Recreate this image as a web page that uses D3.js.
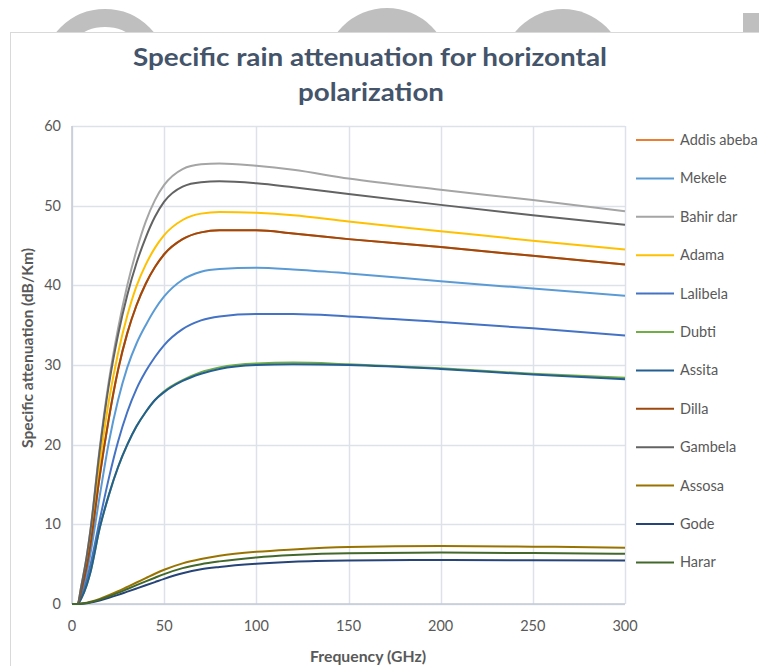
<!DOCTYPE html>
<html>
<head>
<meta charset="utf-8">
<script src="https://cdn.jsdelivr.net/npm/d3@7"></script>
<style>
  body { margin: 0; background: #fff; }
  svg text { font-family: Lato, "Open Sans", sans-serif; }
</style>
</head>
<body>
<svg width="759" height="666"></svg>
<script>
// frequencies (GHz)
const freqs = [0, 3, 5, 8, 10, 15, 20, 25, 30, 35, 40, 45, 50, 60, 70, 80, 100, 120, 150, 200, 250, 300];

// specific attenuation (dB/km) per station
const addisAbeba = [0, 0, 1.6, 4.7, 7.4, 16.0, 23.3, 29.4, 34.0, 37.5, 40.2, 42.3, 43.9, 45.8, 46.65, 46.9, 46.9, 46.5, 45.8, 44.8, 43.7, 42.6];
const mekele     = [0, 0, 1.3, 3.9, 6.3, 13.5, 20.3, 25.6, 29.7, 32.7, 35.0, 37.0, 38.6, 40.7, 41.7, 42.05, 42.2, 42.0, 41.5, 40.5, 39.6, 38.7];
const bahirDar   = [0, 0, 2.2, 6.0, 9.3, 19.5, 28.0, 34.6, 40.0, 44.4, 48.0, 50.7, 52.6, 54.6, 55.2, 55.3, 55.0, 54.5, 53.4, 52.0, 50.7, 49.3];
const adama      = [0, 0, 1.9, 5.4, 8.4, 17.6, 25.5, 31.5, 36.2, 39.9, 42.6, 44.7, 46.3, 48.2, 49.0, 49.2, 49.1, 48.8, 48.0, 46.8, 45.6, 44.5];
const lalibela   = [0, 0, 0.9, 3.0, 4.9, 10.5, 15.8, 20.4, 24.1, 27.0, 29.2, 31.0, 32.5, 34.5, 35.6, 36.1, 36.4, 36.4, 36.1, 35.4, 34.6, 33.7];
const dubti      = [0, 0, 0.7, 2.4, 4.0, 9.5, 13.7, 17.2, 20.0, 22.3, 24.1, 25.6, 26.7, 28.1, 29.1, 29.7, 30.2, 30.3, 30.1, 29.6, 28.9, 28.4];
const assita     = [0, 0, 0.7, 2.4, 4.0, 9.5, 13.7, 17.2, 20.0, 22.3, 24.1, 25.6, 26.6, 28.0, 28.9, 29.5, 30.0, 30.1, 30.0, 29.5, 28.8, 28.2];
const dilla      = [0, 0, 1.6, 4.7, 7.4, 16.0, 23.3, 29.4, 34.0, 37.5, 40.2, 42.3, 43.9, 45.8, 46.65, 46.9, 46.9, 46.5, 45.8, 44.8, 43.7, 42.6];
const gambela    = [0, 0, 2.2, 6.0, 9.2, 19.2, 27.5, 33.8, 38.8, 42.8, 46.0, 48.6, 50.5, 52.4, 52.95, 53.05, 52.8, 52.3, 51.45, 50.1, 48.8, 47.6];
const assosa     = [0, 0, 0.05, 0.15, 0.28, 0.65, 1.1, 1.6, 2.15, 2.7, 3.25, 3.8, 4.3, 5.1, 5.65, 6.05, 6.55, 6.85, 7.15, 7.28, 7.2, 7.07];
const gode       = [0, 0, 0.03, 0.1, 0.18, 0.45, 0.78, 1.15, 1.55, 1.95, 2.35, 2.75, 3.15, 3.85, 4.35, 4.65, 5.05, 5.3, 5.45, 5.52, 5.5, 5.45];
const harar      = [0, 0, 0.04, 0.12, 0.22, 0.55, 0.95, 1.4, 1.88, 2.36, 2.84, 3.3, 3.75, 4.5, 5.0, 5.35, 5.85, 6.15, 6.38, 6.45, 6.4, 6.3];

const names = ['Addis abeba', 'Mekele', 'Bahir dar', 'Adama', 'Lalibela', 'Dubti',
               'Assita', 'Dilla', 'Gambela', 'Assosa', 'Gode', 'Harar'];
const seriesValues = [addisAbeba, mekele, bahirDar, adama, lalibela, dubti,
                      assita, dilla, gambela, assosa, gode, harar];
const colors = ['#ED7D31', '#5B9BD5', '#A5A5A5', '#FFC000', '#4472C4', '#70AD47',
                '#255E91', '#9E480E', '#636363', '#997300', '#264478', '#43682B'];

const xTicks = [0, 50, 100, 150, 200, 250, 300];
const yTicks = [0, 10, 20, 30, 40, 50, 60];

const svg = d3.select('svg');

var plot = {left: 72, right: 625, top: 126, bottom: 604};

// page background shapes peeking out above the chart box
svg.append('circle').attr('cx', 105).attr('cy', 72).attr('r', 54)
    .attr('fill', 'none').attr('stroke', '#bfbfbf').attr('stroke-width', 18);
svg.append('circle').attr('cx', 387).attr('cy', 71).attr('r', 63).attr('fill', '#bfbfbf');
svg.append('circle').attr('cx', 563).attr('cy', 70).attr('r', 61).attr('fill', '#bfbfbf');
svg.append('rect').attr('x', 743).attr('y', 13).attr('width', 20).attr('height', 30).attr('fill', '#bfbfbf');

// chart box
svg.append('rect')
    .attr('x', 10.5).attr('y', 32.5)
    .attr('width', 800).attr('height', 700)
    .attr('fill', '#fff')
    .attr('stroke', '#d9d9d9');

var xScale = d3.scaleLinear()
    .domain([0, 300])
    .range([plot.left, plot.right]);

var yScale = d3.scaleLinear()
    .domain([0, 60])
    .range([plot.bottom, plot.top]);

//-----------------------------------------GRID-----------------------------------------//

svg.append('g')
    .selectAll('line')
    .data(yTicks)
    .enter()
    .append('line')
    .attr('x1', xScale(0)).attr('x2', xScale(300))
    .attr('y1', d => Math.round(yScale(d)) + 0.5)
    .attr('y2', d => Math.round(yScale(d)) + 0.5)
    .style('stroke', '#dde1ea')
    .style('stroke-width', 1.5);

svg.append('g')
    .selectAll('line')
    .data(xTicks)
    .enter()
    .append('line')
    .attr('y1', yScale(0)).attr('y2', yScale(60))
    .attr('x1', d => Math.round(xScale(d)) + 0.5)
    .attr('x2', d => Math.round(xScale(d)) + 0.5)
    .style('stroke', '#dde1ea')
    .style('stroke-width', 1.5);

// axis lines
svg.append('line')
    .attr('x1', xScale(0)).attr('x2', xScale(0))
    .attr('y1', yScale(0)).attr('y2', yScale(60))
    .style('stroke', '#c3cad6').style('stroke-width', 1.5);
svg.append('line')
    .attr('x1', xScale(0)).attr('x2', xScale(300))
    .attr('y1', yScale(0)).attr('y2', yScale(0))
    .style('stroke', '#c3cad6').style('stroke-width', 1.5);

//-----------------------------------------TICK LABELS-----------------------------------------//

svg.append('g')
    .selectAll('text')
    .data(yTicks)
    .enter()
    .append('text')
    .attr('x', 61)
    .attr('y', d => yScale(d) + 5)
    .attr('text-anchor', 'end')
    .style('font-size', '14.5px')
    .style('fill', '#595959')
    .text(d => d);

svg.append('g')
    .selectAll('text')
    .data(xTicks)
    .enter()
    .append('text')
    .attr('x', d => xScale(d))
    .attr('y', 631)
    .attr('text-anchor', 'middle')
    .style('font-size', '14.5px')
    .style('fill', '#595959')
    .text(d => d);

//-----------------------------------------LINES-----------------------------------------//

var line = d3.line()
    .x((d, i) => xScale(freqs[i]))
    .y(d => yScale(d))
    .curve(d3.curveMonotoneX);

svg.append('g')
    .selectAll('path')
    .data(seriesValues)
    .enter()
    .append('path')
    .attr('d', d => line(d))
    .attr('fill', 'none')
    .attr('stroke', (d, i) => colors[i])
    .attr('stroke-width', 2)
    .attr('stroke-linejoin', 'round');

//-----------------------------------------LEGEND-----------------------------------------//

var legend = svg.append('g')
    .selectAll('g')
    .data(names)
    .enter()
    .append('g')
    .attr('transform', (d, i) => `translate(0,${140 + i * 38.4})`);

legend.append('line')
    .attr('x1', 636).attr('x2', 674)
    .attr('y1', 0).attr('y2', 0)
    .attr('stroke', (d, i) => colors[i])
    .attr('stroke-width', 2);

legend.append('text')
    .attr('x', 680)
    .attr('y', 5)
    .style('font-size', '14.5px')
    .style('fill', '#595959')
    .text(d => d);

//-----------------------------------------TITLES-----------------------------------------//

svg.append('text')
    .attr('x', 370)
    .attr('y', 66)
    .attr('text-anchor', 'middle')
    .attr('textLength', 474)
    .attr('lengthAdjust', 'spacingAndGlyphs')
    .style('font-size', '25px')
    .style('font-weight', 'bold')
    .style('fill', '#44546A')
    .text('Specific rain attenuation for horizontal');

svg.append('text')
    .attr('x', 371)
    .attr('y', 101)
    .attr('text-anchor', 'middle')
    .attr('textLength', 146)
    .attr('lengthAdjust', 'spacingAndGlyphs')
    .style('font-size', '25px')
    .style('font-weight', 'bold')
    .style('fill', '#44546A')
    .text('polarization');

svg.append('text')
    .attr('x', 368)
    .attr('y', 662)
    .attr('text-anchor', 'middle')
    .attr('textLength', 116)
    .attr('lengthAdjust', 'spacingAndGlyphs')
    .style('font-size', '15px')
    .style('font-weight', 'bold')
    .style('fill', '#595959')
    .text('Frequency (GHz)');

svg.append('text')
    .attr('text-anchor', 'middle')
    .attr('transform', 'translate(33,348) rotate(-90)')
    .attr('textLength', 200)
    .attr('lengthAdjust', 'spacingAndGlyphs')
    .style('font-size', '15px')
    .style('font-weight', 'bold')
    .style('fill', '#595959')
    .text('Specific attenuation (dB/Km)');
</script>
</body>
</html>
